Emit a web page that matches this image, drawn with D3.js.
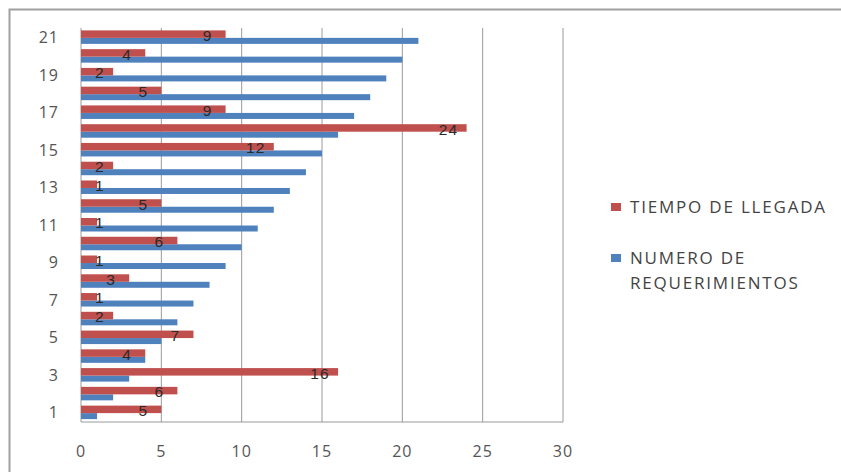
<!DOCTYPE html>
<html><head><meta charset="utf-8">
<script src="https://cdn.jsdelivr.net/npm/d3@7"></script>
<style>body{margin:0;background:#fff;} svg{display:block;}</style>
</head><body>
<svg id="c" width="841" height="472"></svg>
<script>
const categories = [1,2,3,4,5,6,7,8,9,10,11,12,13,14,15,16,17,18,19,20,21];
const requerimientos = [1,2,3,4,5,6,7,8,9,10,11,12,13,14,15,16,17,18,19,20,21];
const llegada = [5,6,16,4,7,2,1,3,1,6,1,5,1,2,12,24,9,5,2,4,9];
const xTicks = [0,5,10,15,20,25,30];
const yTickLabels = [1,3,5,7,9,11,13,15,17,19,21];
const seriesNames = ["TIEMPO DE LLEGADA","NUMERO DE REQUERIMIENTOS"];

(function(){
const svg = d3.select("#c");
const font = "'Open Sans', sans-serif";
const labelFont = "'Liberation Sans', Arial, sans-serif";
const pL = 81, pR = 563, pT = 28, pB = 422;

// outer border (top & left visible)
svg.append("rect").attr("x",9.5).attr("y",9.5).attr("width",900).attr("height",900)
  .attr("fill","none").attr("stroke","#a0a0a0").attr("stroke-width",2);

const x = d3.scaleLinear().domain([0,30]).range([pL,pR]);
const y = d3.scaleBand().domain(categories.slice().reverse()).range([pT,pB]).padding(0);

// gridlines
svg.append("g").selectAll("line").data(xTicks.filter(d=>d>0)).join("line")
  .attr("x1",d=>x(d)).attr("x2",d=>x(d)).attr("y1",pT).attr("y2",pB)
  .attr("stroke","#9a9a9a").attr("stroke-width",1);
// axes lines
svg.append("line").attr("x1",pL).attr("x2",pR).attr("y1",pB).attr("y2",pB).attr("stroke","#9a9a9a");
svg.append("line").attr("x1",pL).attr("x2",pL).attr("y1",pT).attr("y2",pB).attr("stroke","#9a9a9a");

const bw = y.bandwidth();
const barH = 7.5;
// blue bars (lower)
svg.append("g").selectAll("rect").data(categories).join("rect")
  .attr("x",x(0)).attr("y",(d)=>y(d)+bw/2+0.5)
  .attr("width",(d,i)=>x(requerimientos[i])-x(0)).attr("height",barH-1.5)
  .attr("fill","#4F81BD");
// red bars (upper)
svg.append("g").selectAll("rect").data(categories).join("rect")
  .attr("x",x(0)).attr("y",(d)=>y(d)+bw/2-barH+0.5)
  .attr("width",(d,i)=>x(llegada[i])-x(0)).attr("height",barH)
  .attr("fill","#C0504D");

// data labels
svg.append("g").selectAll("text").data(categories).join("text")
  .attr("x",(d,i)=>Math.max(x(llegada[i])-18, x(0)+19))
  .attr("y",(d)=>y(d)+bw/2-2)
  .attr("dy","0.35em").attr("text-anchor","middle")
  .attr("font-family",labelFont).attr("font-size",15.5).attr("letter-spacing",1.2).attr("fill","#2a2a2a")
  .text((d,i)=>llegada[i]);

// y tick labels
svg.append("g").selectAll("text").data(yTickLabels).join("text")
  .attr("x",59).attr("y",d=>y(d)+bw/2).attr("dy","0.35em").attr("text-anchor","end")
  .attr("font-family",font).attr("font-size",16).attr("letter-spacing",1).attr("fill","#555")
  .text(d=>d);
// x tick labels
svg.append("g").selectAll("text").data(xTicks).join("text")
  .attr("x",d=>x(d)).attr("y",451).attr("dy","0.35em").attr("text-anchor","middle")
  .attr("font-family",font).attr("font-size",16).attr("letter-spacing",1).attr("fill","#555")
  .text(d=>d);

// legend
const lg = svg.append("g").attr("font-family",font).attr("font-size",17).attr("letter-spacing",1.8).attr("fill","#444");
lg.append("rect").attr("x",611).attr("y",203).attr("width",10).attr("height",8).attr("fill","#C0504D");
lg.append("text").attr("x",630).attr("y",207).attr("dy","0.35em").text(seriesNames[0]);
lg.append("rect").attr("x",611).attr("y",254).attr("width",10).attr("height",8).attr("fill","#4F81BD");
lg.append("text").attr("x",630).attr("y",258).attr("dy","0.35em").text("NUMERO DE");
lg.append("text").attr("x",630).attr("y",283).attr("dy","0.35em").text("REQUERIMIENTOS");
})();
</script>
</body></html>
